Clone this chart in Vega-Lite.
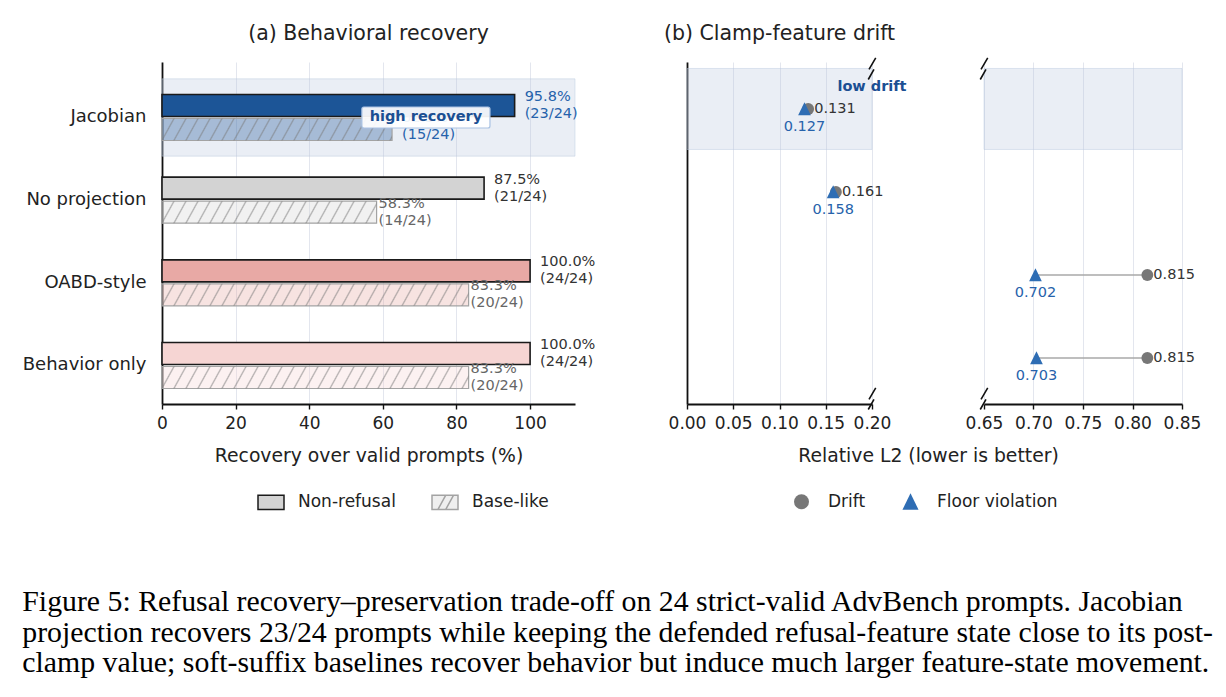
{
"$schema": "https://vega.github.io/schema/vega-lite/v6.json",
"background": "white",
"padding": {"left": 22, "top": 23, "right": 5, "bottom": 5},
"config": {
  "font": "DejaVu Sans",
  "view": {"stroke": null},
  "axis": {"labelFont": "DejaVu Sans", "labelFontSize": 17, "labelColor": "#222", "labelFlush": false, "labelOverlap": false, "titleFont": "DejaVu Sans", "titleFontSize": 18.8, "titleFontWeight": "normal", "titleColor": "#222", "domainColor": "#111", "domainWidth": 1.8, "tickColor": "#111", "tickWidth": 1.4, "tickSize": 5, "gridColor": "#e3e6ee", "gridWidth": 1},
  "title": {"font": "DejaVu Sans", "fontSize": 20.5, "fontWeight": "normal", "color": "#222"},
  "legend": {"labelFont": "DejaVu Sans"},
  "text": {"font": "DejaVu Sans"}
},
"datasets": {
  "bars": [
    {"method": "Jacobian", "metric": "Non-refusal", "value": 95.8, "pct": "95.8%", "frac": "(23/24)"},
    {"method": "Jacobian", "metric": "Base-like", "value": 62.5, "pct": "62.5%", "frac": "(15/24)"},
    {"method": "No projection", "metric": "Non-refusal", "value": 87.5, "pct": "87.5%", "frac": "(21/24)"},
    {"method": "No projection", "metric": "Base-like", "value": 58.3, "pct": "58.3%", "frac": "(14/24)"},
    {"method": "OABD-style", "metric": "Non-refusal", "value": 100, "pct": "100.0%", "frac": "(24/24)"},
    {"method": "OABD-style", "metric": "Base-like", "value": 83.3, "pct": "83.3%", "frac": "(20/24)"},
    {"method": "Behavior only", "metric": "Non-refusal", "value": 100, "pct": "100.0%", "frac": "(24/24)"},
    {"method": "Behavior only", "metric": "Base-like", "value": 83.3, "pct": "83.3%", "frac": "(20/24)"}
  ],
  "drift": [
    {"method": "Jacobian", "drift": 0.131, "floor": 0.127},
    {"method": "No projection", "drift": 0.161, "floor": 0.158},
    {"method": "OABD-style", "drift": 0.815, "floor": 0.702},
    {"method": "Behavior only", "drift": 0.815, "floor": 0.703}
  ]
},
"title": {
  "text": ["Figure 5: Refusal recovery\u2013preservation trade-off on 24 strict-valid AdvBench prompts. Jacobian", "projection recovers 23/24 prompts while keeping the defended refusal-feature state close to its post-", "clamp value; soft-suffix baselines recover behavior but induce much larger feature-state movement."],
  "orient": "bottom", "anchor": "start", "font": "Liberation Serif", "fontSize": 29.8, "fontWeight": "normal", "color": "#000", "lineHeight": 30.5, "offset": 74
},
"spacing": 112,
"bounds": "flush",
"resolve": {
  "scale": {"x": "independent", "y": "independent", "color": "independent", "shape": "independent", "stroke": "independent", "fill": "independent"},
  "legend": {"color": "independent", "shape": "independent", "stroke": "independent", "fill": "independent"},
  "axis": {"x": "independent", "y": "independent"}
},
"hconcat": [
{
  "width": 413, "height": 342,
  "title": {"text": "(a) Behavioral recovery", "offset": 2, "baseline": "alphabetic"},
  "data": {"name": "bars"},
  "encoding": {
    "y": {"field": "method", "type": "nominal", "sort": ["Jacobian", "No projection", "OABD-style", "Behavior only"], "scale": {"type": "band", "domain": ["Jacobian", "No projection", "OABD-style", "Behavior only"], "paddingInner": 0.4436, "paddingOuter": 0.2903, "align": 0.677}, "axis": {"title": null, "ticks": false, "labelPadding": 16, "labelFontSize": 18, "grid": false}}
  },
  "layer": [
    {"data": {"values": [{"method": "Jacobian"}]}, "mark": {"type": "bar", "fill": "#b8c7de", "fillOpacity": 0.3, "stroke": "#b8c7de", "strokeOpacity": 0.45, "strokeWidth": 1, "height": {"band": 1.68}}, "encoding": {"x": {"datum": 0, "type": "quantitative", "scale": {"domain": [0, 112.2], "nice": false, "zero": true}, "axis": {"values": [0, 20, 40, 60, 80, 100], "title": "Recovery over valid prompts (%)", "grid": true, "labelPadding": 6, "titlePadding": 15}}, "x2": {"datum": 112.2}}},
    {"transform": [{"filter": "datum.metric == 'Non-refusal'"}], "mark": {"type": "bar", "stroke": "#1a1a1a", "strokeWidth": 1.6}, "encoding": {
      "x": {"field": "value", "type": "quantitative"},
      "yOffset": {"field": "metric", "type": "nominal", "sort": ["Non-refusal", "Base-like"], "scale": {"domain": ["Non-refusal", "Base-like"], "paddingInner": 0.0833, "paddingOuter": 0}},
      "fill": {"field": "method", "type": "nominal", "scale": {"domain": ["Jacobian", "No projection", "OABD-style", "Behavior only"], "range": ["#1c5597", "#d3d3d3", "#e8a9a5", "#f6d5d3"]}, "legend": null}}},
    {"transform": [{"filter": "datum.metric == 'Base-like'"}], "mark": {"type": "bar", "fillOpacity": 0.33, "stroke": "#a3a3a3", "strokeWidth": 1.2}, "encoding": {
      "x": {"field": "value", "type": "quantitative"},
      "yOffset": {"field": "metric", "type": "nominal", "sort": ["Non-refusal", "Base-like"], "scale": {"domain": ["Non-refusal", "Base-like"], "paddingInner": 0.0833, "paddingOuter": 0}},
      "fill": {"field": "method", "type": "nominal", "scale": {"domain": ["Jacobian", "No projection", "OABD-style", "Behavior only"], "range": ["#1c5597", "#d3d3d3", "#e8a9a5", "#f6d5d3"]}, "legend": null}}},
    {"transform": [{"filter": "datum.metric == 'Base-like' && datum.method == 'Jacobian'"}], "mark": {"type": "bar", "stroke": null, "fill": {"gradient": "linear", "x1": 0, "y1": 0, "x2": 2.0812, "y2": 0.10949, "stops": [{"offset":0.022,"color":"#7a7a7a00"},{"offset":0.025,"color":"#7a7a7a90"},{"offset":0.028,"color":"#7a7a7a00"},{"offset":0.047,"color":"#7a7a7a00"},{"offset":0.05,"color":"#7a7a7a90"},{"offset":0.053,"color":"#7a7a7a00"},{"offset":0.072,"color":"#7a7a7a00"},{"offset":0.075,"color":"#7a7a7a90"},{"offset":0.078,"color":"#7a7a7a00"},{"offset":0.097,"color":"#7a7a7a00"},{"offset":0.1,"color":"#7a7a7a90"},{"offset":0.103,"color":"#7a7a7a00"},{"offset":0.122,"color":"#7a7a7a00"},{"offset":0.125,"color":"#7a7a7a90"},{"offset":0.128,"color":"#7a7a7a00"},{"offset":0.147,"color":"#7a7a7a00"},{"offset":0.15,"color":"#7a7a7a90"},{"offset":0.153,"color":"#7a7a7a00"},{"offset":0.172,"color":"#7a7a7a00"},{"offset":0.175,"color":"#7a7a7a90"},{"offset":0.178,"color":"#7a7a7a00"},{"offset":0.197,"color":"#7a7a7a00"},{"offset":0.2,"color":"#7a7a7a90"},{"offset":0.203,"color":"#7a7a7a00"},{"offset":0.222,"color":"#7a7a7a00"},{"offset":0.225,"color":"#7a7a7a90"},{"offset":0.228,"color":"#7a7a7a00"},{"offset":0.247,"color":"#7a7a7a00"},{"offset":0.25,"color":"#7a7a7a90"},{"offset":0.253,"color":"#7a7a7a00"},{"offset":0.272,"color":"#7a7a7a00"},{"offset":0.275,"color":"#7a7a7a90"},{"offset":0.278,"color":"#7a7a7a00"},{"offset":0.297,"color":"#7a7a7a00"},{"offset":0.3,"color":"#7a7a7a90"},{"offset":0.303,"color":"#7a7a7a00"},{"offset":0.322,"color":"#7a7a7a00"},{"offset":0.325,"color":"#7a7a7a90"},{"offset":0.328,"color":"#7a7a7a00"},{"offset":0.347,"color":"#7a7a7a00"},{"offset":0.35,"color":"#7a7a7a90"},{"offset":0.353,"color":"#7a7a7a00"},{"offset":0.372,"color":"#7a7a7a00"},{"offset":0.375,"color":"#7a7a7a90"},{"offset":0.378,"color":"#7a7a7a00"},{"offset":0.397,"color":"#7a7a7a00"},{"offset":0.4,"color":"#7a7a7a90"},{"offset":0.403,"color":"#7a7a7a00"},{"offset":0.422,"color":"#7a7a7a00"},{"offset":0.425,"color":"#7a7a7a90"},{"offset":0.428,"color":"#7a7a7a00"},{"offset":0.447,"color":"#7a7a7a00"},{"offset":0.45,"color":"#7a7a7a90"},{"offset":0.453,"color":"#7a7a7a00"},{"offset":0.472,"color":"#7a7a7a00"},{"offset":0.475,"color":"#7a7a7a90"},{"offset":0.478,"color":"#7a7a7a00"},{"offset":0.497,"color":"#7a7a7a00"},{"offset":0.5,"color":"#7a7a7a90"},{"offset":0.503,"color":"#7a7a7a00"},{"offset":0.522,"color":"#7a7a7a00"},{"offset":0.525,"color":"#7a7a7a90"},{"offset":0.528,"color":"#7a7a7a00"}]}}, "encoding": {
      "x": {"field": "value", "type": "quantitative"},
      "yOffset": {"field": "metric", "type": "nominal", "sort": ["Non-refusal", "Base-like"], "scale": {"domain": ["Non-refusal", "Base-like"], "paddingInner": 0.0833, "paddingOuter": 0}}}},
    {"transform": [{"filter": "datum.metric == 'Base-like' && datum.method == 'No projection'"}], "mark": {"type": "bar", "stroke": null, "fill": {"gradient": "linear", "x1": 0, "y1": 0, "x2": 2.2307, "y2": 0.12583, "stops": [{"offset":0.022,"color":"#7a7a7a00"},{"offset":0.025,"color":"#7a7a7a90"},{"offset":0.028,"color":"#7a7a7a00"},{"offset":0.047,"color":"#7a7a7a00"},{"offset":0.05,"color":"#7a7a7a90"},{"offset":0.053,"color":"#7a7a7a00"},{"offset":0.072,"color":"#7a7a7a00"},{"offset":0.075,"color":"#7a7a7a90"},{"offset":0.078,"color":"#7a7a7a00"},{"offset":0.097,"color":"#7a7a7a00"},{"offset":0.1,"color":"#7a7a7a90"},{"offset":0.103,"color":"#7a7a7a00"},{"offset":0.122,"color":"#7a7a7a00"},{"offset":0.125,"color":"#7a7a7a90"},{"offset":0.128,"color":"#7a7a7a00"},{"offset":0.147,"color":"#7a7a7a00"},{"offset":0.15,"color":"#7a7a7a90"},{"offset":0.153,"color":"#7a7a7a00"},{"offset":0.172,"color":"#7a7a7a00"},{"offset":0.175,"color":"#7a7a7a90"},{"offset":0.178,"color":"#7a7a7a00"},{"offset":0.197,"color":"#7a7a7a00"},{"offset":0.2,"color":"#7a7a7a90"},{"offset":0.203,"color":"#7a7a7a00"},{"offset":0.222,"color":"#7a7a7a00"},{"offset":0.225,"color":"#7a7a7a90"},{"offset":0.228,"color":"#7a7a7a00"},{"offset":0.247,"color":"#7a7a7a00"},{"offset":0.25,"color":"#7a7a7a90"},{"offset":0.253,"color":"#7a7a7a00"},{"offset":0.272,"color":"#7a7a7a00"},{"offset":0.275,"color":"#7a7a7a90"},{"offset":0.278,"color":"#7a7a7a00"},{"offset":0.297,"color":"#7a7a7a00"},{"offset":0.3,"color":"#7a7a7a90"},{"offset":0.303,"color":"#7a7a7a00"},{"offset":0.322,"color":"#7a7a7a00"},{"offset":0.325,"color":"#7a7a7a90"},{"offset":0.328,"color":"#7a7a7a00"},{"offset":0.347,"color":"#7a7a7a00"},{"offset":0.35,"color":"#7a7a7a90"},{"offset":0.353,"color":"#7a7a7a00"},{"offset":0.372,"color":"#7a7a7a00"},{"offset":0.375,"color":"#7a7a7a90"},{"offset":0.378,"color":"#7a7a7a00"},{"offset":0.397,"color":"#7a7a7a00"},{"offset":0.4,"color":"#7a7a7a90"},{"offset":0.403,"color":"#7a7a7a00"},{"offset":0.422,"color":"#7a7a7a00"},{"offset":0.425,"color":"#7a7a7a90"},{"offset":0.428,"color":"#7a7a7a00"},{"offset":0.447,"color":"#7a7a7a00"},{"offset":0.45,"color":"#7a7a7a90"},{"offset":0.453,"color":"#7a7a7a00"},{"offset":0.472,"color":"#7a7a7a00"},{"offset":0.475,"color":"#7a7a7a90"},{"offset":0.478,"color":"#7a7a7a00"}]}}, "encoding": {
      "x": {"field": "value", "type": "quantitative"},
      "yOffset": {"field": "metric", "type": "nominal", "sort": ["Non-refusal", "Base-like"], "scale": {"domain": ["Non-refusal", "Base-like"], "paddingInner": 0.0833, "paddingOuter": 0}}}},
    {"transform": [{"filter": "datum.metric == 'Base-like' && (datum.method == 'OABD-style' || datum.method == 'Behavior only')"}], "mark": {"type": "bar", "stroke": null, "fill": {"gradient": "linear", "x1": 0, "y1": 0, "x2": 1.5636, "y2": 0.06173, "stops": [{"offset":0.022,"color":"#7a7a7a00"},{"offset":0.025,"color":"#7a7a7a90"},{"offset":0.028,"color":"#7a7a7a00"},{"offset":0.047,"color":"#7a7a7a00"},{"offset":0.05,"color":"#7a7a7a90"},{"offset":0.053,"color":"#7a7a7a00"},{"offset":0.072,"color":"#7a7a7a00"},{"offset":0.075,"color":"#7a7a7a90"},{"offset":0.078,"color":"#7a7a7a00"},{"offset":0.097,"color":"#7a7a7a00"},{"offset":0.1,"color":"#7a7a7a90"},{"offset":0.103,"color":"#7a7a7a00"},{"offset":0.122,"color":"#7a7a7a00"},{"offset":0.125,"color":"#7a7a7a90"},{"offset":0.128,"color":"#7a7a7a00"},{"offset":0.147,"color":"#7a7a7a00"},{"offset":0.15,"color":"#7a7a7a90"},{"offset":0.153,"color":"#7a7a7a00"},{"offset":0.172,"color":"#7a7a7a00"},{"offset":0.175,"color":"#7a7a7a90"},{"offset":0.178,"color":"#7a7a7a00"},{"offset":0.197,"color":"#7a7a7a00"},{"offset":0.2,"color":"#7a7a7a90"},{"offset":0.203,"color":"#7a7a7a00"},{"offset":0.222,"color":"#7a7a7a00"},{"offset":0.225,"color":"#7a7a7a90"},{"offset":0.228,"color":"#7a7a7a00"},{"offset":0.247,"color":"#7a7a7a00"},{"offset":0.25,"color":"#7a7a7a90"},{"offset":0.253,"color":"#7a7a7a00"},{"offset":0.272,"color":"#7a7a7a00"},{"offset":0.275,"color":"#7a7a7a90"},{"offset":0.278,"color":"#7a7a7a00"},{"offset":0.297,"color":"#7a7a7a00"},{"offset":0.3,"color":"#7a7a7a90"},{"offset":0.303,"color":"#7a7a7a00"},{"offset":0.322,"color":"#7a7a7a00"},{"offset":0.325,"color":"#7a7a7a90"},{"offset":0.328,"color":"#7a7a7a00"},{"offset":0.347,"color":"#7a7a7a00"},{"offset":0.35,"color":"#7a7a7a90"},{"offset":0.353,"color":"#7a7a7a00"},{"offset":0.372,"color":"#7a7a7a00"},{"offset":0.375,"color":"#7a7a7a90"},{"offset":0.378,"color":"#7a7a7a00"},{"offset":0.397,"color":"#7a7a7a00"},{"offset":0.4,"color":"#7a7a7a90"},{"offset":0.403,"color":"#7a7a7a00"},{"offset":0.422,"color":"#7a7a7a00"},{"offset":0.425,"color":"#7a7a7a90"},{"offset":0.428,"color":"#7a7a7a00"},{"offset":0.447,"color":"#7a7a7a00"},{"offset":0.45,"color":"#7a7a7a90"},{"offset":0.453,"color":"#7a7a7a00"},{"offset":0.472,"color":"#7a7a7a00"},{"offset":0.475,"color":"#7a7a7a90"},{"offset":0.478,"color":"#7a7a7a00"},{"offset":0.497,"color":"#7a7a7a00"},{"offset":0.5,"color":"#7a7a7a90"},{"offset":0.503,"color":"#7a7a7a00"},{"offset":0.522,"color":"#7a7a7a00"},{"offset":0.525,"color":"#7a7a7a90"},{"offset":0.528,"color":"#7a7a7a00"},{"offset":0.547,"color":"#7a7a7a00"},{"offset":0.55,"color":"#7a7a7a90"},{"offset":0.553,"color":"#7a7a7a00"},{"offset":0.572,"color":"#7a7a7a00"},{"offset":0.575,"color":"#7a7a7a90"},{"offset":0.578,"color":"#7a7a7a00"},{"offset":0.597,"color":"#7a7a7a00"},{"offset":0.6,"color":"#7a7a7a90"},{"offset":0.603,"color":"#7a7a7a00"},{"offset":0.622,"color":"#7a7a7a00"},{"offset":0.625,"color":"#7a7a7a90"},{"offset":0.628,"color":"#7a7a7a00"},{"offset":0.647,"color":"#7a7a7a00"},{"offset":0.65,"color":"#7a7a7a90"},{"offset":0.653,"color":"#7a7a7a00"}]}}, "encoding": {
      "x": {"field": "value", "type": "quantitative"},
      "yOffset": {"field": "metric", "type": "nominal", "sort": ["Non-refusal", "Base-like"], "scale": {"domain": ["Non-refusal", "Base-like"], "paddingInner": 0.0833, "paddingOuter": 0}}}},
    {"transform": [{"filter": "datum.metric == 'Non-refusal'"}], "mark": {"type": "text", "align": "left", "baseline": "middle", "dx": 10, "dy": -8.5, "fontSize": 14.5}, "encoding": {
      "x": {"field": "value", "type": "quantitative"},
      "yOffset": {"field": "metric", "type": "nominal", "sort": ["Non-refusal", "Base-like"], "scale": {"domain": ["Non-refusal", "Base-like"], "paddingInner": 0.0833, "paddingOuter": 0}},
      "text": {"field": "pct"}, "color": {"condition": {"test": "datum.method == 'Jacobian'", "value": "#2662ab"}, "value": "#333333"}}},
    {"transform": [{"filter": "datum.metric == 'Non-refusal'"}], "mark": {"type": "text", "align": "left", "baseline": "middle", "dx": 10, "dy": 8.5, "fontSize": 14.5}, "encoding": {
      "x": {"field": "value", "type": "quantitative"},
      "yOffset": {"field": "metric", "type": "nominal", "sort": ["Non-refusal", "Base-like"], "scale": {"domain": ["Non-refusal", "Base-like"], "paddingInner": 0.0833, "paddingOuter": 0}},
      "text": {"field": "frac"}, "color": {"condition": {"test": "datum.method == 'Jacobian'", "value": "#2662ab"}, "value": "#333333"}}},
    {"transform": [{"filter": "datum.metric == 'Base-like' && datum.method != 'Jacobian'"}], "mark": {"type": "text", "align": "left", "baseline": "middle", "dx": 2, "dy": -8.5, "fontSize": 14.5, "color": "#666666"}, "encoding": {
      "x": {"field": "value", "type": "quantitative"},
      "yOffset": {"field": "metric", "type": "nominal", "sort": ["Non-refusal", "Base-like"], "scale": {"domain": ["Non-refusal", "Base-like"], "paddingInner": 0.0833, "paddingOuter": 0}},
      "text": {"field": "pct"}}},
    {"transform": [{"filter": "datum.metric == 'Base-like' && datum.method != 'Jacobian'"}], "mark": {"type": "text", "align": "left", "baseline": "middle", "dx": 2, "dy": 8.5, "fontSize": 14.5, "color": "#666666"}, "encoding": {
      "x": {"field": "value", "type": "quantitative"},
      "yOffset": {"field": "metric", "type": "nominal", "sort": ["Non-refusal", "Base-like"], "scale": {"domain": ["Non-refusal", "Base-like"], "paddingInner": 0.0833, "paddingOuter": 0}},
      "text": {"field": "frac"}}},
    {"transform": [{"filter": "datum.metric == 'Base-like' && datum.method == 'Jacobian'"}], "mark": {"type": "text", "align": "left", "baseline": "middle", "dx": 10, "dy": -11, "fontSize": 14.5, "color": "#2662ab"}, "encoding": {
      "x": {"field": "value", "type": "quantitative"},
      "yOffset": {"field": "metric", "type": "nominal", "sort": ["Non-refusal", "Base-like"], "scale": {"domain": ["Non-refusal", "Base-like"], "paddingInner": 0.0833, "paddingOuter": 0}},
      "text": {"field": "pct"}}},
    {"transform": [{"filter": "datum.metric == 'Base-like' && datum.method == 'Jacobian'"}], "mark": {"type": "text", "align": "left", "baseline": "middle", "dx": 10, "dy": 6, "fontSize": 14.5, "color": "#2662ab"}, "encoding": {
      "x": {"field": "value", "type": "quantitative"},
      "yOffset": {"field": "metric", "type": "nominal", "sort": ["Non-refusal", "Base-like"], "scale": {"domain": ["Non-refusal", "Base-like"], "paddingInner": 0.0833, "paddingOuter": 0}},
      "text": {"field": "frac"}}},
    {"data": {"values": [{"method": "Jacobian"}]}, "mark": {"type": "bar", "fill": "white", "fillOpacity": 0.92, "stroke": "#a9c2e3", "strokeWidth": 1.2, "cornerRadius": 2, "height": 21}, "encoding": {"x": {"datum": 54.3, "type": "quantitative"}, "x2": {"datum": 89.1}}},
    {"data": {"values": [{"method": "Jacobian"}]}, "mark": {"type": "text", "text": "high recovery", "fontWeight": "bold", "fontSize": 14.5, "color": "#1b4f93", "align": "center", "baseline": "middle"}, "encoding": {"x": {"datum": 71.7, "type": "quantitative"}}},
    {"data": {"values": [{"lg": "Non-refusal"}, {"lg": "Base-like"}]}, "transform": [{"filter": "false"}], "mark": {"type": "point", "filled": true, "opacity": 1, "strokeWidth": 1.5, "size": 676}, "encoding": {
      "color": {"field": "lg", "type": "nominal", "scale": {"domain": ["Non-refusal", "Base-like"], "range": ["#d3d3d3", "#efefef"]}, "legend": {"title": null, "orient": "none", "legendX": 95, "legendY": 426, "direction": "horizontal", "labelFontSize": 17, "labelColor": "#222", "labelOffset": 13, "columnPadding": 33, "symbolSize": 676, "symbolStrokeWidth": 1.5, "padding": 0}},
      "shape": {"field": "lg", "type": "nominal", "scale": {"domain": ["Non-refusal", "Base-like"], "range": ["M-1,-0.55H1V0.55H-1Z", "M-1,-0.55H1V0.55H-1ZM-0.55,0.55L0.05,-0.55M0.05,0.55L0.65,-0.55"]}, "legend": {"title": null, "orient": "none", "legendX": 95, "legendY": 426, "direction": "horizontal", "labelFontSize": 17, "labelColor": "#222", "labelOffset": 13, "columnPadding": 33, "symbolSize": 676, "symbolStrokeWidth": 1.5, "padding": 0}},
      "stroke": {"field": "lg", "type": "nominal", "scale": {"domain": ["Non-refusal", "Base-like"], "range": ["#1a1a1a", "#a3a3a3"]}, "legend": {"title": null, "orient": "none", "legendX": 95, "legendY": 426, "direction": "horizontal", "labelFontSize": 17, "labelColor": "#222", "labelOffset": 13, "columnPadding": 33, "symbolSize": 676, "symbolStrokeWidth": 1.5, "padding": 0}}}}
  ]
},
{
  "width": 185, "height": 342,
  "title": {"text": "(b) Clamp-feature drift", "offset": -6, "baseline": "alphabetic"},
  "data": {"name": "drift"},
  "encoding": {
    "y": {"field": "method", "type": "nominal", "sort": ["Jacobian", "No projection", "OABD-style", "Behavior only"], "scale": {"type": "band", "domain": ["Jacobian", "No projection", "OABD-style", "Behavior only"], "paddingInner": 0.0241, "paddingOuter": 0.0723, "align": 0.54}, "axis": {"title": null, "labels": false, "ticks": false, "grid": false}}
  },
  "layer": [
    {"data": {"values": [{"method": "Jacobian"}]}, "mark": {"type": "bar", "fill": "#b8c7de", "fillOpacity": 0.3, "stroke": "#b8c7de", "strokeOpacity": 0.45, "strokeWidth": 1}, "encoding": {"x": {"datum": 0, "type": "quantitative", "scale": {"domain": [0, 0.2], "nice": false, "zero": false}, "axis": {"values": [0, 0.05, 0.1, 0.15, 0.2], "format": ".2f", "title": "Relative L2 (lower is better)", "titleX": 241, "titleAlign": "center", "grid": true, "labelPadding": 6, "titlePadding": 15}}, "x2": {"datum": 0.2}}},
    {"transform": [{"filter": "datum.drift <= 0.2"}], "mark": {"type": "rule", "color": "#a8a8a8", "strokeWidth": 1.6}, "encoding": {"x": {"field": "floor", "type": "quantitative"}, "x2": {"field": "drift"}}},
    {"transform": [{"fold": ["drift", "floor"], "as": ["kind", "val"]}, {"filter": "datum.val <= 0.2"}], "mark": {"type": "point", "filled": true, "opacity": 1, "size": 140, "strokeWidth": 0}, "encoding": {
      "x": {"field": "val", "type": "quantitative"},
      "shape": {"field": "kind", "type": "nominal", "scale": {"domain": ["drift", "floor"], "range": ["circle", "M0,-1.15L1.07,1.05L-1.07,1.05Z"]}, "legend": {"title": null, "orient": "none", "legendX": 106, "legendY": 431, "direction": "horizontal", "labelFontSize": 17, "labelColor": "#222", "labelOffset": 18, "columnPadding": 36, "symbolSize": 225, "symbolStrokeWidth": 0, "padding": 0, "labelExpr": "datum.label == 'drift' ? 'Drift' : 'Floor violation'"}},
      "color": {"field": "kind", "type": "nominal", "scale": {"domain": ["drift", "floor"], "range": ["#777777", "#2e6db4"]}, "legend": {"title": null, "orient": "none", "legendX": 106, "legendY": 431, "direction": "horizontal", "labelFontSize": 17, "labelColor": "#222", "labelOffset": 18, "columnPadding": 36, "symbolSize": 225, "symbolStrokeWidth": 0, "padding": 0, "labelExpr": "datum.label == 'drift' ? 'Drift' : 'Floor violation'"}}}},
    {"transform": [{"filter": "datum.drift <= 0.2"}], "mark": {"type": "text", "align": "left", "baseline": "middle", "dx": 6, "fontSize": 14.5, "color": "#333333"}, "encoding": {"x": {"field": "drift", "type": "quantitative"}, "text": {"field": "drift", "format": ".3f"}}},
    {"transform": [{"filter": "datum.floor <= 0.2"}], "mark": {"type": "text", "align": "center", "baseline": "middle", "dy": 18, "fontSize": 14.5, "color": "#2662ab"}, "encoding": {"x": {"field": "floor", "type": "quantitative"}, "text": {"field": "floor", "format": ".3f"}}},
    {"data": {"values": [{"method": "Jacobian"}]}, "mark": {"type": "text", "text": "low drift", "fontWeight": "bold", "fontSize": 14.5, "color": "#1b4f93", "align": "center", "baseline": "middle", "dy": -22}, "encoding": {"x": {"datum": 0.2, "type": "quantitative"}}},
    {"data": {"values": [{"method": "Jacobian"}]}, "mark": {"type": "point", "shape": "M0.34,-0.97L-0.27,0.09M0.18,0.09L-0.34,1", "size": 484, "filled": false, "stroke": "#111111", "strokeWidth": 1.6, "opacity": 1}, "encoding": {"x": {"datum": 0.2, "type": "quantitative"}, "y": {"field": "method", "type": "nominal", "bandPosition": 0}}},
    {"data": {"values": [{"method": "Behavior only"}]}, "mark": {"type": "point", "shape": "M0.34,-0.97L-0.27,0.09M0.18,0.09L-0.34,1", "size": 484, "filled": false, "stroke": "#111111", "strokeWidth": 1.6, "opacity": 1}, "encoding": {"x": {"datum": 0.2, "type": "quantitative"}, "y": {"field": "method", "type": "nominal", "bandPosition": 1}}}
  ]
},
{
  "width": 198, "height": 342,
  "data": {"name": "drift"},
  "encoding": {
    "y": {"field": "method", "type": "nominal", "sort": ["Jacobian", "No projection", "OABD-style", "Behavior only"], "scale": {"type": "band", "domain": ["Jacobian", "No projection", "OABD-style", "Behavior only"], "paddingInner": 0.0241, "paddingOuter": 0.0723, "align": 0.54}, "axis": null}
  },
  "layer": [
    {"data": {"values": [{"method": "Jacobian"}]}, "mark": {"type": "bar", "fill": "#b8c7de", "fillOpacity": 0.3, "stroke": "#b8c7de", "strokeOpacity": 0.45, "strokeWidth": 1}, "encoding": {"x": {"datum": 0.65, "type": "quantitative", "scale": {"domain": [0.65, 0.85], "nice": false, "zero": false}, "axis": {"values": [0.65, 0.7, 0.75, 0.8, 0.85], "format": ".2f", "title": null, "grid": true, "labelPadding": 6}}, "x2": {"datum": 0.85}}},
    {"transform": [{"filter": "datum.floor >= 0.65"}], "mark": {"type": "rule", "color": "#a8a8a8", "strokeWidth": 1.6}, "encoding": {"x": {"field": "floor", "type": "quantitative"}, "x2": {"field": "drift"}}},
    {"transform": [{"fold": ["drift", "floor"], "as": ["kind", "val"]}, {"filter": "datum.val >= 0.65"}], "mark": {"type": "point", "filled": true, "opacity": 1, "size": 140, "strokeWidth": 0}, "encoding": {
      "x": {"field": "val", "type": "quantitative"},
      "shape": {"field": "kind", "type": "nominal", "scale": {"domain": ["drift", "floor"], "range": ["circle", "M0,-1.15L1.07,1.05L-1.07,1.05Z"]}, "legend": null},
      "color": {"field": "kind", "type": "nominal", "scale": {"domain": ["drift", "floor"], "range": ["#777777", "#2e6db4"]}, "legend": null}}},
    {"transform": [{"filter": "datum.drift >= 0.65"}], "mark": {"type": "text", "align": "left", "baseline": "middle", "dx": 6, "fontSize": 14.5, "color": "#333333"}, "encoding": {"x": {"field": "drift", "type": "quantitative"}, "text": {"field": "drift", "format": ".3f"}}},
    {"transform": [{"filter": "datum.floor >= 0.65"}], "mark": {"type": "text", "align": "center", "baseline": "middle", "dy": 18, "fontSize": 14.5, "color": "#2662ab"}, "encoding": {"x": {"field": "floor", "type": "quantitative"}, "text": {"field": "floor", "format": ".3f"}}},
    {"data": {"values": [{"method": "Jacobian"}]}, "mark": {"type": "point", "shape": "M0.34,-0.97L-0.27,0.09M0.18,0.09L-0.34,1", "size": 484, "filled": false, "stroke": "#111111", "strokeWidth": 1.6, "opacity": 1}, "encoding": {"x": {"datum": 0.65, "type": "quantitative"}, "y": {"field": "method", "type": "nominal", "bandPosition": 0}}},
    {"data": {"values": [{"method": "Behavior only"}]}, "mark": {"type": "point", "shape": "M0.34,-0.97L-0.27,0.09M0.18,0.09L-0.34,1", "size": 484, "filled": false, "stroke": "#111111", "strokeWidth": 1.6, "opacity": 1}, "encoding": {"x": {"datum": 0.65, "type": "quantitative"}, "y": {"field": "method", "type": "nominal", "bandPosition": 1}}}
  ]
}
]
}
